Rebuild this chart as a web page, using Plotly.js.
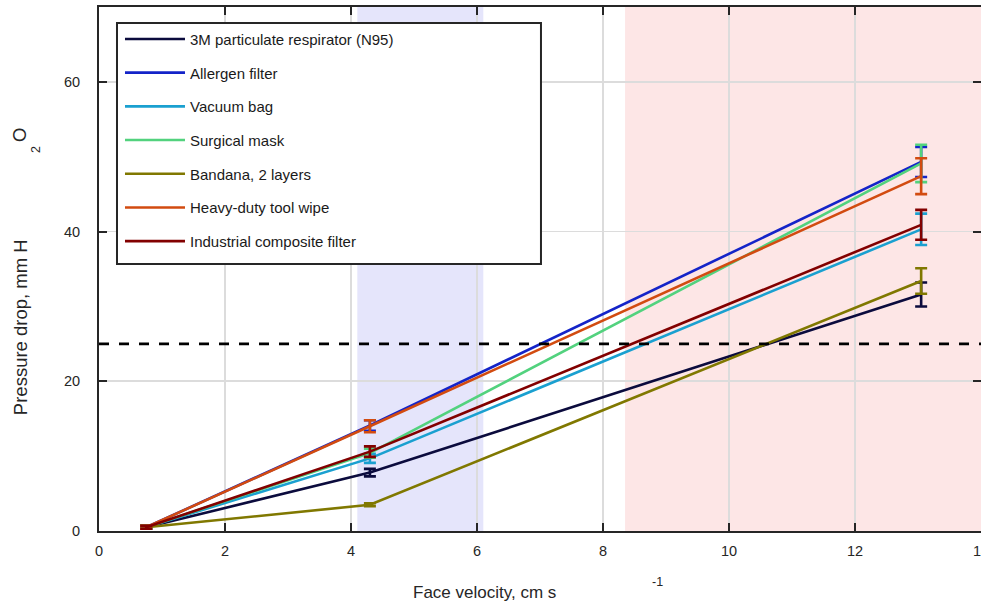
<!DOCTYPE html>
<html>
<head>
<meta charset="utf-8">
<script src="https://cdn.plot.ly/plotly-3.0.1.min.js"></script>
<style>html,body{margin:0;padding:0;background:#fff;}#chart{width:981px;height:604px;}</style>
</head>
<body>
<div id="chart"></div>
<script>
// ---- Data ----
var faceVelocity = [0.75, 4.3, 13.05];

var seriesNames = [
  "3M particulate respirator (N95)",
  "Allergen filter",
  "Vacuum bag",
  "Surgical mask",
  "Bandana, 2 layers",
  "Heavy-duty tool wipe",
  "Industrial composite filter"
];

var seriesColors = ["#0b0b3d", "#1424c8", "#1aa0d0", "#52d27e", "#807800", "#d24b10", "#820000"];

var n95Values        = [0.5, 7.8, 31.6];
var allergenValues   = [0.5, 14.1, 49.3];
var vacuumValues     = [0.5, 9.7, 40.3];
var surgicalValues   = [0.5, 10.4, 49.1];
var bandanaValues    = [0.5, 3.5, 33.4];
var toolWipeValues   = [0.5, 14.0, 47.4];
var industrialValues = [0.5, 10.6, 40.9];

var n95Err        = [0.2, 0.5, 1.6];
var allergenErr   = [0.2, 0.7, 2.0];
var vacuumErr     = [0.2, 0.6, 2.1];
var surgicalErr   = [0.2, 0.6, 2.5];
var bandanaErr    = [0.2, 0.2, 1.7];
var toolWipeErr   = [0.2, 0.8, 2.4];
var industrialErr = [0.2, 0.7, 2.0];

var seriesValues = [n95Values, allergenValues, vacuumValues, surgicalValues, bandanaValues, toolWipeValues, industrialValues];
var seriesErrors = [n95Err, allergenErr, vacuumErr, surgicalErr, bandanaErr, toolWipeErr, industrialErr];

var xTicks = [0, 2, 4, 6, 8, 10, 12, 14];
var yTicks = [0, 20, 40, 60];
var blueBand = [4.1, 6.1];
var redBand = [8.35, 14];
var threshold = 25;

// ---- Build traces ----
var traces = seriesNames.map(function(name, i) {
  return {
    type: "scatter",
    mode: "lines",
    name: name,
    legendgroup: "g" + i,
    x: faceVelocity,
    y: seriesValues[i],
    line: {color: seriesColors[i], width: 2.6},
    error_y: {type: "data", array: seriesErrors[i], visible: true, color: seriesColors[i], thickness: 2.6, width: 6}
  };
});

var font = "Liberation Sans, Arial, Helvetica, sans-serif";
var axisColor = "#262626";

var layout = {
  width: 981, height: 604,
  margin: {l: 99, r: 0, t: 7, b: 73},
  paper_bgcolor: "#ffffff",
  plot_bgcolor: "#ffffff",
  font: {family: font, size: 14, color: axisColor},
  showlegend: true,
  legend: {
    x: 0.0238, y: 0.970, xanchor: "left", yanchor: "top",
    bgcolor: "rgba(0,0,0,0)", borderwidth: 0,
    font: {family: font, size: 15, color: "#1a1a1a"},
    traceorder: "grouped", tracegroupgap: 11.2,
    itemwidth: 60
  },
  xaxis: {
    range: [0, 14], tickvals: xTicks, ticktext: xTicks.map(String),
    showgrid: true, gridcolor: "#dcdcdc", gridwidth: 1.6,
    zeroline: false,
    showline: true, linecolor: axisColor, linewidth: 2, mirror: "ticks",
    ticks: "inside", ticklen: 8, tickwidth: 2, tickcolor: axisColor,
    tickfont: {family: font, size: 14.5, color: axisColor},
    ticklabelstandoff: 6, ticklabeloverflow: "allow"
  },
  yaxis: {
    range: [0, 70], tickvals: yTicks, ticktext: yTicks.map(String),
    showgrid: true, gridcolor: "#dcdcdc", gridwidth: 1.6,
    zeroline: false,
    showline: true, linecolor: axisColor, linewidth: 2, mirror: "ticks",
    ticks: "inside", ticklen: 8, tickwidth: 2, tickcolor: axisColor,
    tickfont: {family: font, size: 14.5, color: axisColor},
    ticklabelstandoff: 14
  },
  shapes: [
    {type: "rect", xref: "x", yref: "paper", x0: blueBand[0], x1: blueBand[1], y0: 0, y1: 1,
     fillcolor: "#e5e5fb", line: {width: 0}, layer: "below"},
    {type: "rect", xref: "x", yref: "paper", x0: redBand[0], x1: redBand[1], y0: 0, y1: 1,
     fillcolor: "#fde6e6", line: {width: 0}, layer: "below"},
    {type: "line", xref: "paper", yref: "y", x0: 0, x1: 1, y0: threshold, y1: threshold,
     line: {color: "#000000", width: 2.6, dash: "10px,10px"}, layer: "above"},
    // legend frame
    {type: "rect", xref: "paper", yref: "paper", x0: 0.0204, x1: 0.5011, y0: 0.5095, y1: 0.9695,
     fillcolor: "#ffffff", line: {color: axisColor, width: 2}, layer: "above"}
  ],
  annotations: [
    {text: "Pressure drop, mm H", xref: "paper", yref: "paper", x: -0.0896, y: 0.389,
     xanchor: "center", yanchor: "middle",
     textangle: -90, showarrow: false, font: {family: font, size: 18.5, color: axisColor}},
    {text: "O", xref: "paper", yref: "paper", x: -0.0907, y: 0.7557,
     xanchor: "center", yanchor: "middle",
     textangle: -90, showarrow: false, font: {family: font, size: 18.5, color: axisColor}},
    {text: "2", xref: "paper", yref: "paper", x: -0.0714, y: 0.727,
     xanchor: "center", yanchor: "middle",
     textangle: -90, showarrow: false, font: {family: font, size: 12.5, color: axisColor}},
    {text: "Face velocity, cm s", xref: "paper", yref: "paper", x: 0.4376, y: -0.1183,
     xanchor: "center", yanchor: "middle",
     showarrow: false, font: {family: font, size: 17, color: axisColor}},
    {text: "-1", xref: "paper", yref: "paper", x: 0.6327, y: -0.0973,
     xanchor: "center", yanchor: "middle",
     showarrow: false, font: {family: font, size: 12.5, color: axisColor}}
  ]
};

Plotly.newPlot("chart", traces, layout, {displayModeBar: false, staticPlot: true});
</script>
</body>
</html>
